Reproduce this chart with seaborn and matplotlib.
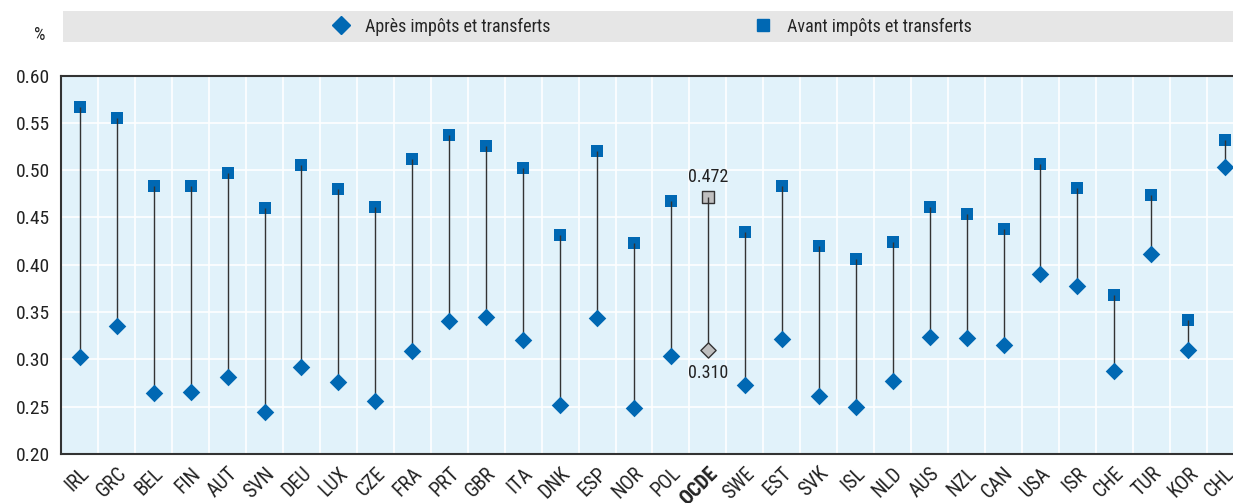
import numpy as np
import pandas as pd
import matplotlib.pyplot as plt
from matplotlib.lines import Line2D
from matplotlib.patches import Rectangle
import seaborn as sns

# Données (coefficient de Gini)
pays = ['IRL', 'GRC', 'BEL', 'FIN', 'AUT', 'SVN', 'DEU', 'LUX', 'CZE', 'FRA',
        'PRT', 'GBR', 'ITA', 'DNK', 'ESP', 'NOR', 'POL', 'OCDE', 'SWE', 'EST',
        'SVK', 'ISL', 'NLD', 'AUS', 'NZL', 'CAN', 'USA', 'ISR', 'CHE', 'TUR',
        'KOR', 'CHL']
avant = [0.567, 0.555, 0.483, 0.483, 0.497, 0.460, 0.505, 0.480, 0.461, 0.512,
         0.537, 0.525, 0.502, 0.431, 0.520, 0.423, 0.467, 0.472, 0.435, 0.483,
         0.420, 0.406, 0.424, 0.461, 0.454, 0.438, 0.507, 0.481, 0.368, 0.474,
         0.342, 0.532]
apres = [0.302, 0.335, 0.264, 0.265, 0.281, 0.244, 0.292, 0.276, 0.256, 0.309,
         0.341, 0.345, 0.321, 0.252, 0.344, 0.249, 0.304, 0.310, 0.273, 0.322,
         0.261, 0.250, 0.277, 0.324, 0.323, 0.315, 0.390, 0.378, 0.288, 0.411,
         0.310, 0.503]

df = pd.DataFrame({'pays': pays, 'avant': avant, 'apres': apres})
df['x'] = np.arange(len(df))
df['groupe'] = np.where(df['pays'] == 'OCDE', 'OCDE', 'pays')

bleu = '#0068B3'
gris = '#BFBFBF'

sns.set_style('white')
plt.rcParams['font.family'] = ['Roboto Condensed', 'Archivo Narrow', 'DejaVu Sans']

fig = plt.figure(figsize=(12.33, 5.03), dpi=100)
ax = fig.add_axes([61.3 / 1233, 1 - 454 / 503, (1233 - 61.3) / 1233, (454 - 75.5) / 503])
ax.set_facecolor('#E1F2FA')

# carrés : avant impôts
sns.scatterplot(data=df[df.groupe == 'pays'], x='x', y='avant', marker='s', s=84,
                color=bleu, edgecolor=bleu, linewidth=0, ax=ax, zorder=3, legend=False)
sns.scatterplot(data=df[df.groupe == 'OCDE'], x='x', y='avant', marker='s', s=70,
                color=gris, edgecolor='#333333', linewidth=1, ax=ax, zorder=3, legend=False)
# lignes
ax.vlines(df['x'], df['apres'], df['avant'], color='#333333', linewidth=1.0, zorder=4)
# losanges : après impôts
sns.scatterplot(data=df[df.groupe == 'pays'], x='x', y='apres', marker='D', s=80,
                color=bleu, edgecolor=bleu, linewidth=0, ax=ax, zorder=5, legend=False)
sns.scatterplot(data=df[df.groupe == 'OCDE'], x='x', y='apres', marker='D', s=60,
                color=gris, edgecolor='#333333', linewidth=1, ax=ax, zorder=5, legend=False)

io = pays.index('OCDE')
ax.annotate(f'{avant[io]:.3f}', (io, avant[io]), xytext=(0, 8), textcoords='offset points',
            ha='center', va='bottom', fontsize=13, color='#222222')
ax.annotate(f'{apres[io]:.3f}', (io, apres[io]), xytext=(0, -10), textcoords='offset points',
            ha='center', va='top', fontsize=13, color='#222222')

# axes
ax.set_xlim(-0.5, 31.5 - 10.7 / 37)
ax.set_ylim(0.20, 0.60)
ax.set_yticks(np.arange(0.20, 0.601, 0.05))
ax.set_yticklabels([f'{v:.2f}' for v in np.arange(0.20, 0.601, 0.05)], fontsize=14, color='#222222')
ax.set_xticks(df['x'])
ax.set_xticklabels(pays, rotation=45, ha='right', rotation_mode='anchor', fontsize=14.5, color='#222222')
for lab in ax.get_xticklabels():
    if lab.get_text() == 'OCDE':
        lab.set_fontweight('bold')
ax.set_xticks(np.arange(0.5, len(pays) - 1, 1), minor=True)
ax.tick_params(axis='x', which='major', length=0, pad=7)
ax.tick_params(axis='x', which='minor', direction='in', length=5, width=1, color='#333333')
ax.tick_params(axis='y', which='major', direction='in', length=7, width=1, color='#333333', pad=8)
ax.grid(True, which='major', axis='y', color='white', linewidth=1.2)
ax.grid(True, which='minor', axis='x', color='white', linewidth=1.2)
ax.set_axisbelow(True)
for s in ['left', 'bottom', 'top']:
    ax.spines[s].set_visible(True)
    ax.spines[s].set_color('#333333')
    ax.spines[s].set_linewidth(1.5)
ax.spines['right'].set_visible(False)
ax.set_xlabel('')
ax.set_ylabel('')

# bandeau de légende
fig.patches.append(Rectangle((63 / 1233, 1 - 42 / 503), (1233 - 63) / 1233, 31 / 503,
                             transform=fig.transFigure, facecolor='#E6E6E6', edgecolor='none'))
handles = [Line2D([], [], marker='D', color=bleu, linestyle='', markersize=9),
           Line2D([], [], marker='s', color=bleu, linestyle='', markersize=9)]
fig.legend(handles, ['Après impôts et transferts', 'Avant impôts et transferts'],
           loc='center', bbox_to_anchor=(651 / 1233, 1 - 26.5 / 503), ncol=2, frameon=False,
           fontsize=13, columnspacing=11.2, handletextpad=0.7, handlelength=1.2)
fig.text(40 / 1233, 1 - 35 / 503, '%', ha='center', va='center', fontsize=13, color='#222222')

fig.savefig('out.png', dpi=100)
